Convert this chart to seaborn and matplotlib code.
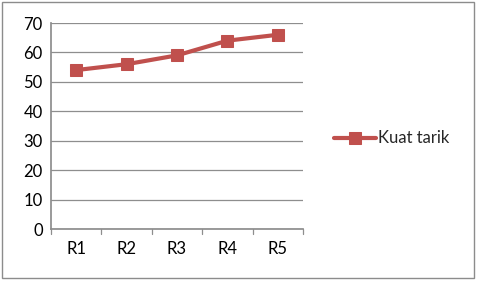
import matplotlib
matplotlib.use("Agg")
import matplotlib.pyplot as plt
import seaborn as sns
import pandas as pd
from matplotlib.patches import Rectangle

categories = ["R1", "R2", "R3", "R4", "R5"]
values = [54, 56, 59, 64, 66]
series_name = "Kuat tarik"

sns.set_theme(style="white")
plt.rcParams['font.family'] = ['Lato', 'DejaVu Sans']

df = pd.DataFrame({"cat": categories, "val": values, "series": series_name})

fig = plt.figure(figsize=(4.85, 2.96), dpi=100)
ax = fig.add_axes([51/485, 1 - 229/296, (303-51)/485, (229-23)/296])

red = "#C0504D"
sns.lineplot(data=df, x="cat", y="val", hue="series", palette=[red], marker="s",
             markersize=9, linewidth=3, markeredgecolor=red, ax=ax, sort=False)

ax.set_xlim(-0.5, 4.5)
ax.set_ylim(0, 70)
ax.set_yticks(range(0, 71, 10))
ax.set_xlabel("")
ax.set_ylabel("")
ax.grid(axis="y", color="#8e8e8e", linewidth=0.9)
ax.set_axisbelow(True)
for s in ["top", "right"]:
    ax.spines[s].set_visible(False)
ax.spines["left"].set_color("#8e8e8e")
ax.spines["bottom"].set_color("#8e8e8e")
ax.tick_params(axis="y", length=0, labelsize=12, pad=6, colors="#000000")
ax.tick_params(axis="x", length=0, labelsize=12, pad=9, colors="#000000")
# category boundary tick marks
for b in [-0.5, 0.5, 1.5, 2.5, 3.5, 4.5]:
    ax.plot([b, b], [0, -1.7], color="#8e8e8e", linewidth=0.9, clip_on=False)

leg = ax.legend(loc="center left", bbox_to_anchor=(1.065, 0.44), frameon=False,
                fontsize=12, handlelength=2.5, handletextpad=0.1)

fig.patches.append(Rectangle((2/485, 1 - 278/296), (474-2)/485, (278-2)/296,
                             transform=fig.transFigure, fill=False,
                             edgecolor="#8c8c8c", linewidth=1.0))

fig.savefig("out.png", dpi=100)
